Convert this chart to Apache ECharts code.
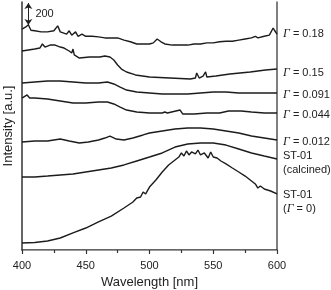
<!DOCTYPE html>
<html>
<head>
<meta charset="utf-8">
<script src="https://cdn.jsdelivr.net/npm/echarts@6/dist/echarts.min.js"></script>
<style>
    html,body{margin:0;padding:0;background:#fff;}
    #chart{width:331px;height:290px;}
</style>
</head>
<body>
<div id="chart"></div>
<script>
// wavelength [nm], intensity [a.u.] (curves are offset)
var g018 = [[400,2010],[403,2030],[405,2050],[407,2000],[410,1995],[415,1985],[420,1985],[425,1995],[428,2040],[430,1985],[435,1965],[437,1995],[439,1955],[442,1985],[444,1945],[447,1965],[450,1945],[455,1945],[460,1940],[465,1930],[470,1930],[475,1930],[480,1910],[485,1895],[490,1875],[495,1875],[500,1875],[503,1885],[506,1920],[509,1895],[512,1875],[518,1865],[524,1865],[530,1865],[535,1875],[540,1875],[545,1885],[550,1885],[555,1895],[560,1900],[565,1900],[570,1910],[575,1920],[580,1930],[583,1945],[585,1930],[590,1945],[594,1955],[597,2020],[598,2000],[600,1965]];
var g015 = [[400,1811],[410,1829],[414,1838],[416,1875],[418,1847],[422,1865],[426,1865],[430,1847],[433,1838],[437,1811],[439,1793],[440,1829],[441,1775],[445,1747],[453,1756],[461,1756],[465,1765],[469,1756],[472,1729],[475,1684],[478,1647],[482,1620],[489,1593],[500,1574],[516,1565],[532,1556],[536,1565],[537,1611],[539,1565],[542,1583],[544,1620],[545,1574],[552,1583],[563,1602],[571,1611],[579,1620],[591,1638],[600,1647]];
var g0091 = [[400,1520],[410,1529],[420,1538],[430,1538],[440,1529],[450,1520],[460,1520],[467,1529],[472,1511],[477,1483],[482,1456],[490,1438],[500,1429],[510,1420],[520,1420],[530,1420],[540,1429],[550,1438],[560,1438],[570,1429],[580,1429],[590,1429],[600,1429]];
var g0044 = [[400,1383],[404,1411],[406,1383],[410,1383],[420,1374],[430,1356],[440,1338],[450,1338],[460,1347],[467,1347],[472,1329],[477,1301],[482,1274],[490,1256],[500,1247],[510,1247],[512,1256],[514,1247],[524,1274],[526,1238],[535,1238],[545,1247],[555,1247],[562,1265],[572,1265],[580,1256],[590,1247],[600,1247]];
var g0012 = [[400,983],[410,992],[420,992],[430,1010],[437,992],[445,974],[452,983],[460,1001],[465,1019],[469,1037],[474,1010],[480,1001],[487,1019],[495,1047],[500,1065],[510,1083],[520,1101],[530,1110],[540,1110],[550,1101],[560,1083],[570,1065],[580,1037],[590,1019],[600,1001]];
var calcined = [[400,664],[410,664],[420,673],[430,683],[440,692],[450,710],[460,728],[470,746],[480,774],[490,810],[500,846],[510,883],[520,937],[530,965],[540,974],[550,974],[560,955],[570,919],[580,883],[590,855],[600,828]];
var st01 = [[400,64],[410,68],[420,82],[430,109],[440,155],[450,200],[460,255],[470,309],[480,382],[487,437],[490,473],[493,482],[495,528],[497,510],[500,573],[505,637],[510,710],[515,774],[520,819],[523,846],[525,883],[527,855],[529,901],[531,865],[533,892],[536,874],[538,910],[540,865],[543,883],[546,837],[548,892],[550,846],[553,837],[556,810],[560,783],[565,746],[570,710],[575,673],[580,628],[583,601],[585,564],[587,582],[590,555],[595,537],[600,510]];

var seriesData = [g018, g015, g0091, g0044, g0012, calcined, st01];
var seriesNames = ['{g|Γ} = 0.18', '{g|Γ} = 0.15', '{g|Γ} = 0.091', '{g|Γ} = 0.044', '{g|Γ} = 0.012',
    'ST-01\n(calcined)', 'ST-01\n({g|Γ} = 0)'];
var labelShift = [0, 4, 2, 2, 2, 4, 8];

var xTicks = [400, 450, 500, 550, 600];
var scaleBar = 200;

(function () {
    var chart = echarts.init(document.getElementById('chart'), null, {renderer: 'canvas'});
    var font = 'Liberation Sans, Arial, sans-serif';
    var series = [];
    for (var i = 0; i < seriesData.length; i++) {
        series.push({
            name: 's' + i,
            type: 'line',
            data: seriesData[i],
            showSymbol: false,
            silent: true,
            lineStyle: {color: '#1c1c1c', width: 1.4},
            endLabel: {
                show: true,
                distance: 6,
                offset: [0, labelShift[i]],
                formatter: (function (t) { return function () { return t; }; })(seriesNames[i]),
                color: '#222',
                fontFamily: font,
                fontSize: 11,
                lineHeight: 14,
                align: 'left',
                rich: {
                    g: {fontFamily: 'Liberation Serif, DejaVu Serif, serif', fontStyle: 'italic', fontSize: 12, color: '#222'}
                }
            }
        });
    }
    // scale bar: 200 a.u.
    series[0].markLine = {
        silent: true,
        symbol: ['arrow', 'arrow'],
        symbolSize: 6,
        lineStyle: {color: '#222', type: 'solid', width: 1},
        label: {show: false},
        data: [[{coord: [405, 2248]}, {coord: [405, 2248 - scaleBar]}]]
    };
    series[0].markPoint = {
        silent: true,
        symbolSize: 0,
        label: {show: true, position: 'right', distance: 0, formatter: String(scaleBar), color: '#222', fontFamily: font, fontSize: 11},
        data: [{coord: [410.5, 2148]}]
    };

    var option = {
        animation: false,
        backgroundColor: '#fff',
        grid: {left: 22, right: 54, top: 2, bottom: 40, containLabel: false, outerBoundsMode: 'none'},
        xAxis: [{
            type: 'value',
            min: 400,
            max: 600,
            interval: 50,
            name: 'Wavelength [nm]',
            nameLocation: 'middle',
            nameGap: 24,
            nameTextStyle: {color: '#222', fontFamily: font, fontSize: 13},
            axisLine: {lineStyle: {color: '#333', width: 1.5}},
            axisTick: {length: 4, lineStyle: {color: '#333', width: 1.2}},
            minorTick: {show: true, splitNumber: 2, length: 3, lineStyle: {color: '#333', width: 1.2}},
            axisLabel: {margin: 10, color: '#222', fontFamily: font, fontSize: 11,
                alignMinLabel: 'center', alignMaxLabel: 'center',
                formatter: function (v) { return xTicks.indexOf(v) >= 0 ? v : ''; }},
            splitLine: {show: false}
        }, {
            type: 'value',
            position: 'top',
            min: 400,
            max: 600,
            axisLine: {lineStyle: {color: '#999', width: 1.2}},
            axisTick: {show: false},
            axisLabel: {show: false},
            splitLine: {show: false}
        }],
        yAxis: [{
            type: 'value',
            min: 0,
            max: 2257,
            name: 'Intensity [a.u.]',
            nameLocation: 'middle',
            nameGap: 7,
            nameTextStyle: {color: '#222', fontFamily: font, fontSize: 13},
            axisLine: {show: true, lineStyle: {color: '#333', width: 1.5}},
            axisTick: {show: false},
            axisLabel: {show: false},
            splitLine: {show: false}
        }, {
            type: 'value',
            position: 'right',
            min: 0,
            max: 2257,
            axisLine: {show: true, lineStyle: {color: '#555', width: 1.5}},
            axisTick: {show: false},
            axisLabel: {show: false},
            splitLine: {show: false}
        }],
        series: series
    };
    chart.setOption(option);
})();
</script>
</body>
</html>
